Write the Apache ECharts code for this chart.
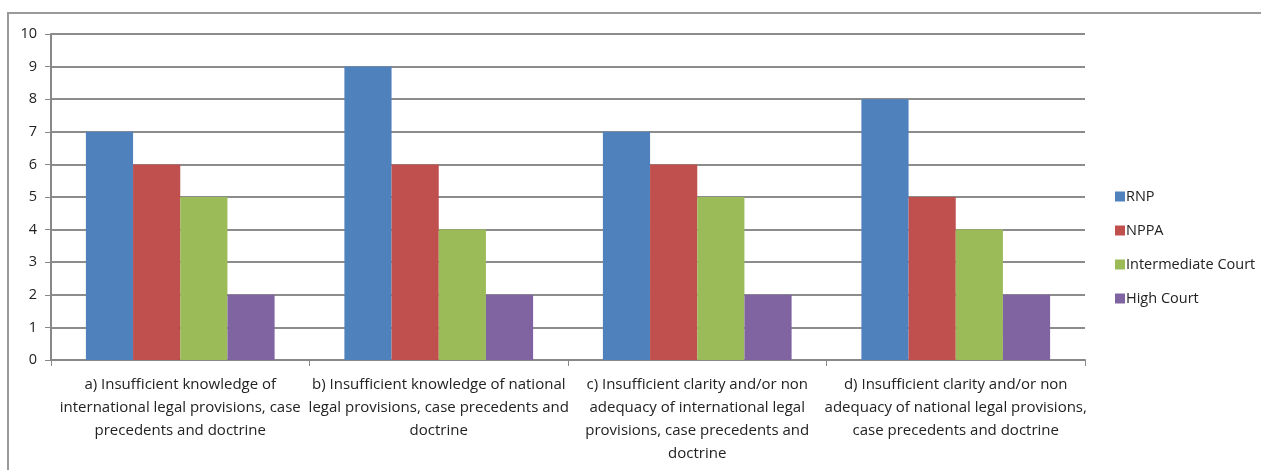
<!DOCTYPE html>
<html>
<head>
<meta charset="utf-8">
<script src="https://cdn.jsdelivr.net/npm/echarts@6/dist/echarts.min.js"></script>
<style>
  html, body { margin: 0; padding: 0; background: #fff; }
  #chart { width: 1261px; height: 470px; }
</style>
</head>
<body>
<div id="chart"></div>
<script>
// Categories (problem areas), wrapped over several lines
const categories = [
  'a) Insufficient knowledge of\ninternational legal provisions, case\nprecedents and doctrine',
  'b) Insufficient knowledge of national\nlegal provisions, case precedents and\ndoctrine',
  'c) Insufficient clarity and/or non\nadequacy of international legal\nprovisions, case precedents and\ndoctrine',
  'd) Insufficient clarity and/or non\nadequacy of national legal provisions,\ncase precedents and doctrine'
];

// Scores per institution
const rnp = [7, 9, 7, 8];
const nppa = [6, 6, 6, 5];
const intermediateCourt = [5, 4, 5, 4];
const highCourt = [2, 2, 2, 2];

const seriesNames = ['RNP', 'NPPA', 'Intermediate Court', 'High Court'];
const seriesData = [rnp, nppa, intermediateCourt, highCourt];
const colors = ['#4F81BD', '#C0504D', '#9BBB59', '#8064A2'];

const font = '"Open Sans", "Noto Sans", sans-serif';
const textColor = '#222';

const chart = echarts.init(document.getElementById('chart'));
chart.setOption({
  animation: false,
  backgroundColor: '#fff',
  color: colors,
  graphic: [{
    type: 'rect',
    shape: { x: 8, y: 13, width: 1300, height: 500 },
    style: { fill: 'none', stroke: '#9a9a9a', lineWidth: 2 },
    silent: true
  }],
  grid: { left: 51, top: 34, right: 176, bottom: 110, containLabel: false },
  legend: {
    orient: 'vertical',
    left: 1110,
    top: 184,
    itemWidth: 10,
    itemHeight: 10,
    itemGap: 19,
    icon: 'rect',
    textStyle: { fontFamily: font, fontSize: 14.5, color: textColor, padding: [0, 0, 0, -4] },
    data: seriesNames
  },
  xAxis: {
    type: 'category',
    data: categories,
    axisLine: { lineStyle: { color: '#888', width: 2 } },
    axisTick: { show: true, length: 6, lineStyle: { color: '#888' } },
    axisLabel: {
      interval: 0,
      fontFamily: font,
      fontSize: 15,
      color: textColor,
      lineHeight: 23,
      margin: 13
    }
  },
  yAxis: {
    type: 'value',
    min: 0,
    max: 10,
    interval: 1,
    axisLine: { show: true, lineStyle: { color: '#888', width: 2 } },
    axisTick: { show: true, inside: false, length: 6, lineStyle: { color: '#888' } },
    axisLabel: { fontFamily: font, fontSize: 14.5, color: textColor, margin: 14 },
    splitLine: { lineStyle: { color: '#8c8c8c', width: 2 } }
  },
  series: seriesNames.map((name, i) => ({
    name: name,
    type: 'bar',
    data: seriesData[i],
    barGap: '0%',
    barCategoryGap: '27%',
    itemStyle: { color: colors[i] }
  }))
});
</script>
</body>
</html>
